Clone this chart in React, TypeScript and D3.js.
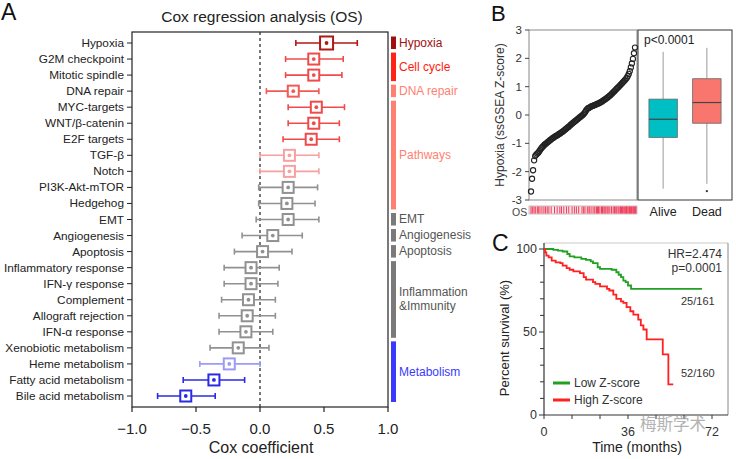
import React from "react";
import * as d3 from "d3";

// ---------- Panel A data ----------
const rowNames = [
  "Hypoxia", "G2M checkpoint", "Mitotic spindle", "DNA repair", "MYC-targets",
  "WNT/β-catenin", "E2F targets", "TGF-β", "Notch", "PI3K-Akt-mTOR", "Hedgehog",
  "EMT", "Angiogenesis", "Apoptosis", "Inflammatory response", "IFN-γ response",
  "Complement", "Allograft rejection", "IFN-α response", "Xenobiotic metabolism",
  "Heme metabolism", "Fatty acid metabolism", "Bile acid metabolism",
];
const coefValues = [0.52, 0.42, 0.42, 0.26, 0.44, 0.42, 0.40, 0.23, 0.23, 0.22, 0.21, 0.22, 0.10, 0.02, -0.07, -0.07, -0.09, -0.10, -0.11, -0.17, -0.24, -0.36, -0.58];
const lowerValues = [0.28, 0.20, 0.20, 0.05, 0.22, 0.22, 0.18, 0.0, 0.0, -0.01, -0.01, -0.03, -0.14, -0.20, -0.28, -0.28, -0.30, -0.32, -0.32, -0.39, -0.47, -0.60, -0.80];
const upperValues = [0.76, 0.65, 0.64, 0.46, 0.66, 0.62, 0.62, 0.46, 0.46, 0.45, 0.43, 0.46, 0.33, 0.25, 0.15, 0.14, 0.12, 0.12, 0.10, 0.07, 0.0, -0.12, -0.35];
const rowColors = [
  "#b01818", "#ef4b4b", "#ef4b4b", "#f15a55", "#ef4b4b", "#ef4b4b", "#ef4b4b",
  "#f7a0a0", "#f7a0a0", "#919191", "#919191", "#919191", "#919191", "#919191",
  "#919191", "#919191", "#919191", "#919191", "#919191", "#919191",
  "#9b9bf7", "#2a2ae6", "#2a2ae6",
];
const xTicksA = [-1.0, -0.5, 0.0, 0.5, 1.0];

const groupLabels = [["Hypoxia"], ["Cell cycle"], ["DNA repair"], ["Pathways"], ["EMT"], ["Angiogenesis"], ["Apoptosis"], ["Inflammation", "&Immunity"], ["Metabolism"]];
const groupFirst = [0, 1, 3, 4, 11, 12, 13, 14, 19];
const groupLast = [0, 2, 3, 10, 11, 12, 13, 18, 22];
const groupBarColors = ["#9e1010", "#ff2215", "#ff8070", "#ff8070", "#7a7a7a", "#7a7a7a", "#7a7a7a", "#7a7a7a", "#3a3aff"];
const groupTextColors = ["#9e1010", "#ff1a10", "#ff7f70", "#ff7f70", "#555555", "#555555", "#555555", "#555555", "#3a3aff"];

// ---------- Panel B data ----------
const rankedScores = [
  -2.70, -2.25, -1.95, -1.60, -1.45, -1.40, -1.36, -1.33, -1.28, -1.22,
  -1.17, -1.13, -1.09, -1.05, -1.02, -0.99, -0.96, -0.93, -0.90, -0.87,
  -0.84, -0.81, -0.79, -0.76, -0.74, -0.72, -0.70, -0.67, -0.65, -0.62,
  -0.60, -0.57, -0.54, -0.51, -0.48, -0.45, -0.42, -0.39, -0.35, -0.32,
  -0.29, -0.26, -0.23, -0.20, -0.17, -0.14, -0.11, -0.08, -0.05, -0.02,
  0.01, 0.05, 0.10, 0.16, 0.21, 0.24, 0.26, 0.28, 0.30, 0.32,
  0.33, 0.35, 0.36, 0.38, 0.40, 0.41, 0.43, 0.45, 0.47, 0.50,
  0.52, 0.55, 0.57, 0.60, 0.63, 0.66, 0.69, 0.72, 0.76, 0.80,
  0.83, 0.87, 0.91, 0.95, 0.98, 1.02, 1.06, 1.10, 1.14, 1.18,
  1.22, 1.26, 1.31, 1.37, 1.45, 1.55, 1.68, 1.82, 1.98, 2.18, 2.38,
];
const totalPatients = 321;
const deathRanks = [
  3, 7, 12, 16, 22, 25, 30, 36, 42, 47, 52, 57, 64, 74, 82, 90, 95, 102, 110, 117,
  127, 134, 140, 147, 157, 162, 166, 173, 178, 181, 187, 193, 196, 201, 204, 207,
  211, 216, 219, 223, 226, 229, 233, 236, 241, 246, 251, 255, 259, 262, 266, 269,
  273, 276, 279, 283, 286, 289, 291, 293, 296, 299, 301, 303, 306, 308, 311, 313,
  316, 318, 320,
];
const yTicksB = [3, 2, 1, 0, -1, -2, -3];
const boxGroups = ["Alive", "Dead"];
const boxMin = [-2.6, -2.43];
const boxQ1 = [-0.79, -0.29];
const boxMedian = [-0.15, 0.44];
const boxQ3 = [0.56, 1.28];
const boxMax = [2.23, 2.37];
const boxOutliers = [[], [-2.69]];
const boxFill = ["#00bfc4", "#f8766d"];

// ---------- Panel C data ----------
const lowTimes = [0, 4, 6, 8, 10, 11, 13, 16, 18, 20, 21, 23, 24, 29, 31, 32, 33, 34, 35, 36, 37.3, 67.7];
const lowSurv = [100, 99.5, 99, 98.5, 97, 95.5, 95, 94, 93.5, 92.5, 91.5, 89, 88, 87.5, 86, 84.5, 83, 81, 80, 78, 76, 76];
const highTimes = [0, 0.5, 1, 2, 3.3, 5, 7, 8, 9.7, 11, 12.6, 15.4, 17, 18, 21, 22, 24, 27, 28, 29.7, 31, 33, 34, 35.4, 37, 38.3, 40.4, 41.5, 42.6, 44, 50.9, 53.3, 55.4];
const highSurv = [100, 98, 96, 95, 93, 92, 91.5, 90, 88.5, 87.5, 86.5, 85.5, 83, 81.5, 80, 79, 77.5, 76, 75, 72.5, 70, 68.5, 67.5, 65, 62.5, 60.5, 57.5, 54, 51.5, 45.5, 36.5, 18.5, 18.5];
const xTicksC = [0, 12, 24, 36, 48, 60, 72];
const xTickLabelsC = ["0", "", "", "36", "", "", "72"];
const yTicksC = [0, 10, 20, 30, 40, 50, 60, 70, 80, 90, 100];
const yTickLabelsC = ["0", "", "", "", "", "50", "", "", "", "", "100"];

const FONT = "'Liberation Sans', Arial, Helvetica, sans-serif";

function PanelA() {
  const x = d3.scaleLinear().domain([-1, 1]).range([132, 388]);
  const y = d3.scalePoint<string>().domain(rowNames).range([43, 396]).padding(0);
  const top = 32, bottom = 407;
  return (
    <g>
      <text x={1} y={20} fontSize={23} fill="#111">A</text>
      <text x={262} y={22} fontSize={15.5} textAnchor="middle" fill="#222">Cox regression analysis (OS)</text>
      <rect x={132} y={top} width={256} height={bottom - top} fill="none" stroke="#222" strokeWidth={1.2} />
      <line x1={x(0)} x2={x(0)} y1={top} y2={bottom} stroke="#333" strokeWidth={1.3} strokeDasharray="3,3" />
      {rowNames.map((n, i) => {
        const yy = y(n) as number;
        const c = rowColors[i];
        const s = i === 0 ? 13 : 11;
        return (
          <g key={n}>
            <line x1={127} x2={132} y1={yy} y2={yy} stroke="#222" />
            <text x={124} y={yy + 4} fontSize={11.8} textAnchor="end" fill="#222">{n}</text>
            <line x1={x(lowerValues[i])} x2={x(upperValues[i])} y1={yy} y2={yy} stroke={c} strokeWidth={1.6} />
            <line x1={x(lowerValues[i])} x2={x(lowerValues[i])} y1={yy - 3} y2={yy + 3} stroke={c} strokeWidth={1.6} />
            <line x1={x(upperValues[i])} x2={x(upperValues[i])} y1={yy - 3} y2={yy + 3} stroke={c} strokeWidth={1.6} />
            <rect x={x(coefValues[i]) - s / 2} y={yy - s / 2} width={s} height={s} fill="#fff" stroke={c} strokeWidth={2} />
            <circle cx={x(coefValues[i])} cy={yy} r={1.9} fill={c} />
          </g>
        );
      })}
      {xTicksA.map((t) => (
        <g key={t}>
          <line x1={x(t)} x2={x(t)} y1={bottom} y2={bottom + 5} stroke="#222" strokeWidth={1.2} />
          <text x={x(t)} y={434} fontSize={15} textAnchor="middle" fill="#222">{d3.format(".1f")(t)}</text>
        </g>
      ))}
      <text x={261} y={453} fontSize={16} textAnchor="middle" fill="#222">Cox coefficient</text>
      {groupLabels.map((lab, gi) => {
        const y0 = (y(rowNames[groupFirst[gi]]) as number) - 6.5;
        const y1 = (y(rowNames[groupLast[gi]]) as number) + 6;
        const cy = (y0 + y1) / 2;
        return (
          <g key={gi}>
            <rect x={391} y={y0} width={5} height={y1 - y0} fill={groupBarColors[gi]} />
            {lab.map((l, li) => (
              <text key={li} x={399} y={cy + 4 + (li - (lab.length - 1) / 2) * 14} fontSize={12} fill={groupTextColors[gi]}>{l}</text>
            ))}
          </g>
        );
      })}
    </g>
  );
}

function PanelB() {
  const y = d3.scaleLinear().domain([-3, 3]).range([200, 30]);
  const xr = d3.scaleLinear().domain([0, rankedScores.length - 1]).range([531, 635]);
  const xs = d3.scaleLinear().domain([0, totalPatients - 1]).range([530, 636]);
  const xb = d3.scaleBand<string>().domain(boxGroups).range([638, 732]).paddingInner(0.35).paddingOuter(0.25);
  return (
    <g>
      <text x={491} y={21} fontSize={22} fill="#111">B</text>
      <rect x={529} y={30} width={108} height={170} fill="none" stroke="#888" strokeWidth={1} />
      {yTicksB.map((t) => (
        <g key={t}>
          <line x1={525} x2={529} y1={y(t)} y2={y(t)} stroke="#444" />
          <text x={522} y={y(t) + 4} fontSize={11.5} textAnchor="end" fill="#333">{t}</text>
        </g>
      ))}
      <text transform={`translate(504,115) rotate(-90)`} fontSize={12} textAnchor="middle" fill="#333">Hypoxia (ssGSEA Z-score)</text>
      {rankedScores.map((v, i) => (
        <circle key={i} cx={xr(i)} cy={y(v)} r={2.6} fill="none" stroke="#222" strokeWidth={1.1} />
      ))}
      <text x={512} y={215.5} fontSize={10.5} fill="#444">OS</text>
      <rect x={529} y={206} width={108} height={8} fill="#fde4e9" stroke="#999" strokeWidth={0.6} />
      {deathRanks.map((r, i) => (
        <line key={i} x1={xs(r)} x2={xs(r)} y1={206.5} y2={213.5} stroke="#ee3a58" strokeWidth={1} />
      ))}
      <rect x={638} y={30} width={94} height={170} fill="none" stroke="#333" strokeWidth={1} />
      <text x={644} y={44} fontSize={12} fill="#222">p&lt;0.0001</text>
      {boxGroups.map((g, i) => {
        const bx = xb(g) as number;
        const w = xb.bandwidth();
        const cx = bx + w / 2;
        return (
          <g key={g}>
            <line x1={cx} x2={cx} y1={y(boxMax[i])} y2={y(boxQ3[i])} stroke="#999" />
            <line x1={cx} x2={cx} y1={y(boxQ1[i])} y2={y(boxMin[i])} stroke="#999" />
            <rect x={bx} y={y(boxQ3[i])} width={w} height={y(boxQ1[i]) - y(boxQ3[i])} fill={boxFill[i]} stroke="#666" strokeWidth={0.8} />
            <line x1={bx} x2={bx + w} y1={y(boxMedian[i])} y2={y(boxMedian[i])} stroke="#444" strokeWidth={1.2} />
            {boxOutliers[i].map((o, k) => (
              <circle key={k} cx={cx} cy={y(o)} r={1.1} fill="#333" />
            ))}
            <text x={cx} y={216} fontSize={12.5} textAnchor="middle" fill="#222">{g}</text>
          </g>
        );
      })}
    </g>
  );
}

function PanelC() {
  const x = d3.scaleLinear().domain([0, 72]).range([544, 712]);
  const y = d3.scaleLinear().domain([0, 100]).range([415, 249]);
  const line = d3.line<[number, number]>().x((d) => x(d[0])).y((d) => y(d[1])).curve(d3.curveStepAfter);
  const low = lowTimes.map((t, i) => [t, lowSurv[i]] as [number, number]);
  const high = highTimes.map((t, i) => [t, highSurv[i]] as [number, number]);
  return (
    <g>
      <text x={492} y={251} fontSize={23} fill="#111">C</text>
      <line x1={544} x2={728} y1={243} y2={243} stroke="#bbb" strokeWidth={0.8} />
      <line x1={728} x2={728} y1={243} y2={415} stroke="#888" strokeWidth={1} />
      <line x1={544} x2={544} y1={243} y2={415} stroke="#333" strokeWidth={1.2} />
      <line x1={544} x2={728} y1={415} y2={415} stroke="#333" strokeWidth={1.2} />
      {yTicksC.map((t, i) => (
        <g key={t}>
          <line x1={yTickLabelsC[i] ? 539 : 540} x2={544} y1={y(t)} y2={y(t)} stroke="#333" />
          {yTickLabelsC[i] && <text x={537} y={y(t) + 4} fontSize={12.5} textAnchor="end" fill="#333">{yTickLabelsC[i]}</text>}
        </g>
      ))}
      {xTicksC.map((t, i) => (
        <g key={t}>
          <line x1={x(t)} x2={x(t)} y1={415} y2={419} stroke="#333" />
          {xTickLabelsC[i] && <text x={x(t)} y={436} fontSize={12.5} textAnchor="middle" fill="#333">{xTickLabelsC[i]}</text>}
        </g>
      ))}
      <text transform={`translate(509,338) rotate(-90)`} fontSize={13} textAnchor="middle" fill="#222">Percent survival (%)</text>
      <text x={637} y={452} fontSize={14} textAnchor="middle" fill="#222">Time (months)</text>
      <path d={line(low) || ""} fill="none" stroke="#22a022" strokeWidth={1.8} />
      <path d={line(high) || ""} fill="none" stroke="#ff2020" strokeWidth={1.8} />
      <text x={722} y={258} fontSize={12} textAnchor="end" fill="#333">HR=2.474</text>
      <text x={722} y={272} fontSize={12} textAnchor="end" fill="#333">p=0.0001</text>
      <text x={681} y={305} fontSize={11} fill="#333">25/161</text>
      <text x={681} y={377} fontSize={11} fill="#333">52/160</text>
      <line x1={553} x2={570} y1={383} y2={383} stroke="#22a022" strokeWidth={3} />
      <text x={574} y={387} fontSize={12} fill="#333">Low Z-score</text>
      <line x1={553} x2={570} y1={400} y2={400} stroke="#ff2020" strokeWidth={3} />
      <text x={574} y={404} fontSize={12} fill="#333">High Z-score</text>
      <text x={640} y={430} fontSize={16.5} fill="#999" opacity={0.75} fontFamily="'Noto Sans CJK SC', sans-serif">梅斯学术</text>
    </g>
  );
}

export default function App() {
  return (
    <svg width={736} height={459} style={{ position: "absolute", left: 0, top: 0, background: "#fff" }} fontFamily={FONT}>
      <rect width={736} height={459} fill="#fff" />
      <PanelA />
      <PanelB />
      <PanelC />
    </svg>
  );
}
